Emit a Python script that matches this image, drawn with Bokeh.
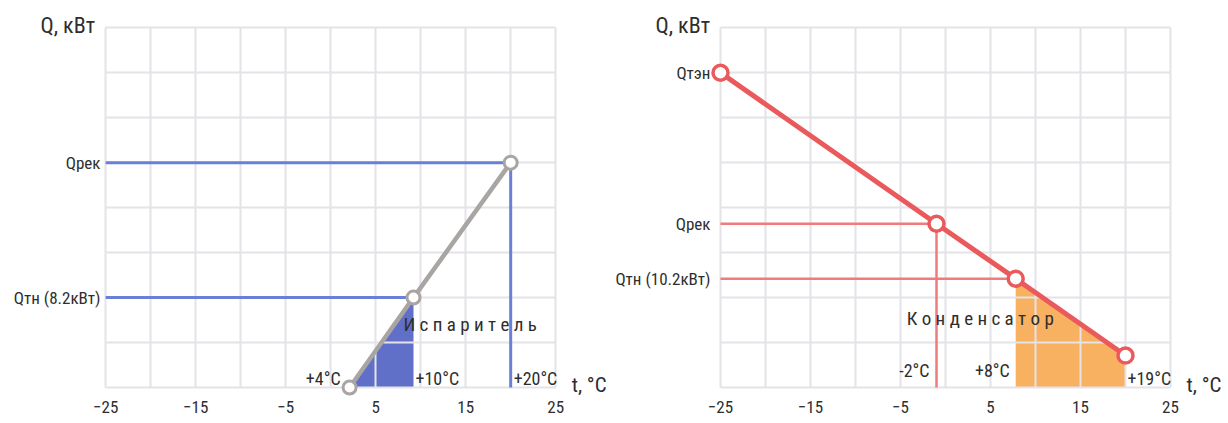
from bokeh.plotting import figure
from bokeh.models import Label, FixedTicker, SingleIntervalTicker, Range1d
from bokeh.layouts import row
from bokeh.embed import file_html
from bokeh.resources import INLINE

FONT = "'Roboto Condensed', 'DejaVu Sans Condensed', Roboto"
TXT = "#2e2e2e"

# ---- shared axes ----
x_ticks = [-25, -15, -5, 5, 15, 25]
t_min, t_max = -25, 25
q_min, q_max = 0, 8
grid_t_step = 5
grid_q_step = 1
t_unit = "t, °C"
q_unit = "Q, кВт"

# ---- left: evaporator ----
evap_t = [2.1, 9.2, 20.0]
evap_q = [0.0, 2.0, 5.0]
evap_t_labels = ["+4°C", "+10°C", "+20°C"]
evap_q_levels = [5.0, 2.0]
evap_q_names = ["Qрек", "Qтн (8.2кВт)"]
evap_name = "Испаритель"

# ---- right: condenser ----
cond_t = [-25.0, -1.0, 7.8, 20.0]
cond_q = [7.0, 3.64, 2.42, 0.71]
cond_t_labels = ["-2°C", "+8°C", "+19°C"]
cond_q_levels = [7.0, 3.64, 2.42]
cond_q_names = ["Qтэн", "Qрек", "Qтн (10.2кВт)"]
cond_name = "Конденсатор"

PX_T = 9.0   # px per degree
PX_Q = 45.0  # px per grid row
PAD_L = 8
PAD_B = 12
EPS_T = 0.02
EPS_Q = 0.005
H = 421
TOP = 27
BOTTOM = 22


def make_fig(width, left, pad_left, q_levels, q_names, y_std, title_offset):
    frame_w = width - left
    x0 = t_min - (PAD_L / PX_T if pad_left else EPS_T)
    x1 = x0 + frame_w / PX_T
    y1 = q_max + EPS_Q
    y0 = q_min - PAD_B / PX_Q
    p = figure(width=width, height=H,
               x_range=Range1d(x0, x1), y_range=Range1d(y0, y1),
               output_backend="svg", toolbar_location=None, title=q_unit,
               min_border_left=left, min_border_right=0,
               min_border_top=TOP, min_border_bottom=BOTTOM)
    p.outline_line_color = None
    p.background_fill_color = "white"
    p.border_fill_color = "white"

    t = p.title
    t.align = "left"
    t.offset = title_offset
    t.standoff = -21
    t.text_font = FONT
    t.text_font_size = "22px"
    t.text_font_style = "normal"
    t.text_color = TXT

    xg = p.xgrid[0]
    yg = p.ygrid[0]
    xg.ticker = SingleIntervalTicker(interval=grid_t_step)
    yg.ticker = SingleIntervalTicker(interval=grid_q_step)
    xg.bounds = (t_min, t_max)
    yg.bounds = (q_min, q_max)
    for g in (xg, yg):
        g.grid_line_color = "#e3e3e8"
        g.grid_line_width = 2
        g.level = "guide"
    try:
        xg.cross_bounds = (q_min, q_max)
        yg.cross_bounds = (t_min, t_max)
    except Exception:
        pass

    xa = p.xaxis[0]
    xa.ticker = FixedTicker(ticks=x_ticks)
    ya = p.yaxis[0]
    ya.ticker = FixedTicker(ticks=q_levels)
    ya.major_label_overrides = {lv: nm for lv, nm in zip(q_levels, q_names)}
    for a in (xa, ya):
        a.axis_line_color = None
        a.major_tick_line_color = None
        a.minor_tick_line_color = None
        a.major_tick_out = 0
        a.major_tick_in = 0
        a.minor_tick_out = 0
        a.minor_tick_in = 0
        a.major_label_text_font = FONT
        a.major_label_text_color = TXT
    xa.major_label_standoff = 1
    xa.major_label_text_font_size = "17px"
    ya.major_label_standoff = y_std
    ya.major_label_text_font_size = "17px"

    p.add_layout(Label(x=t_max, y=q_min, text=t_unit, text_align="left", text_baseline="middle",
                       x_offset=16, y_offset=3, text_font=FONT, text_font_size="21px",
                       text_color=TXT))
    return p


def lbl(p, x, y, text, align, dx, dy, size="18px"):
    p.add_layout(Label(x=x, y=y, text=text, text_align=align, text_baseline="middle",
                       x_offset=dx, y_offset=dy, text_font=FONT, text_font_size=size,
                       text_color=TXT))


# ================= left chart =================
p1 = make_fig(608, 105, False, evap_q_levels, evap_q_names, 5, -65)

p1.patch([evap_t[0], evap_t[1], evap_t[1]], [evap_q[0], evap_q[1], q_min],
         fill_color="#6070c8", line_color=None)
p1.multi_line(xs=[[t_min, evap_t[2]], [evap_t[2], evap_t[2]], [t_min, evap_t[1]]],
              ys=[[evap_q[2], evap_q[2]], [evap_q[2], q_min], [evap_q[1], evap_q[1]]],
              line_color="#6a7fd6", line_width=3, level="annotation")
p1.line(evap_t, evap_q, line_color="#a9a5a3", line_width=4.5, level="annotation")
p1.scatter(evap_t, evap_q, marker="circle", size=13, fill_color="white",
           line_color="#a9a5a3", line_width=3, level="annotation")

lbl(p1, evap_t[0], q_min, evap_t_labels[0], "right", -9, 9)
lbl(p1, evap_t[1], q_min, evap_t_labels[1], "left", 2, 9)
lbl(p1, evap_t[2], q_min, evap_t_labels[2], "left", 3, 9)
lbl(p1, evap_t[1], evap_q[1], " ".join(evap_name), "left", -10, -27, "19px")

# ================= right chart =================
p2 = make_fig(618, 104, True, cond_q_levels, cond_q_names, 2, -57)

p2.patch([cond_t[2], cond_t[2], cond_t[3], cond_t[3]], [q_min, cond_q[2], cond_q[3], q_min],
         fill_color="#f7b160", line_color=None)
p2.multi_line(xs=[[t_min, cond_t[1]], [cond_t[1], cond_t[1]], [t_min, cond_t[2]]],
              ys=[[cond_q[1], cond_q[1]], [cond_q[1], q_min], [cond_q[2], cond_q[2]]],
              line_color="#f07b7d", line_width=2.5, level="annotation")
p2.line(cond_t, cond_q, line_color="#ea5a5d", line_width=5, level="annotation")
p2.scatter(cond_t, cond_q, marker="circle", size=15, fill_color="white",
           line_color="#ea5a5d", line_width=3.5, level="annotation")

lbl(p2, cond_t[1], q_min, cond_t_labels[0], "right", -7, 17)
lbl(p2, cond_t[2], q_min, cond_t_labels[1], "right", -6, 17)
lbl(p2, cond_t[3], q_min, cond_t_labels[2], "left", 2, 9)
lbl(p2, cond_t[2], cond_q[2], " ".join(cond_name), "left", -109, -40, "19px")

layout = row(p1, p2)
open("out.html", "w").write(file_html(layout, INLINE))
